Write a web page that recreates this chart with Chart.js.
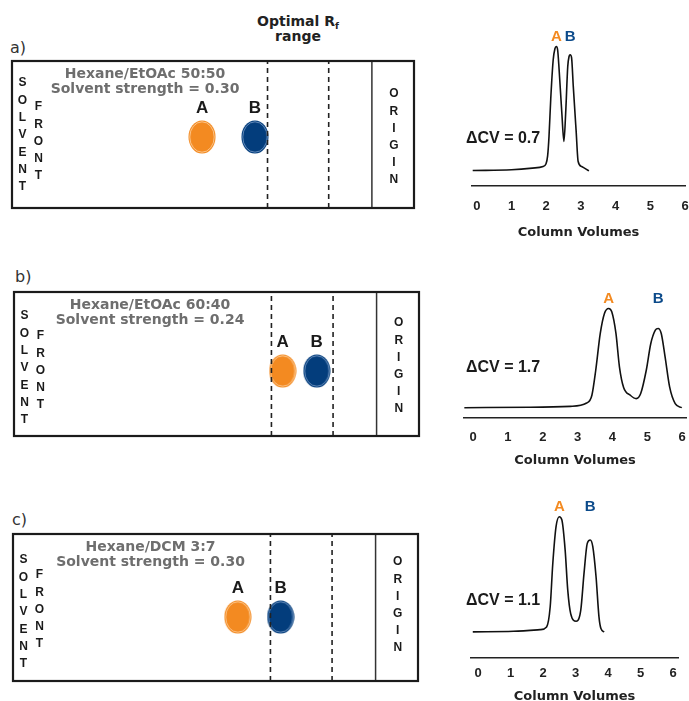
<!DOCTYPE html>
<html>
<head>
<meta charset="utf-8">
<script src="https://cdn.jsdelivr.net/npm/chart.js@4.4.1/dist/chart.umd.min.js"></script>
<style>
html,body{margin:0;padding:0;background:#fff;width:689px;height:701px;overflow:hidden;}
canvas{position:absolute;}
.t{position:absolute;white-space:nowrap;}
.row{font-family:"DejaVu Sans";font-size:16px;line-height:16px;color:#333;}
.opt{font-family:"DejaVu Sans";font-weight:bold;font-size:14px;line-height:15px;color:#222;text-align:center;width:160px;left:218px;top:14px;}
.opt span{font-size:9px;vertical-align:-3px;line-height:0;}
</style>
</head>
<body>
<div class="t row" style="left:10px;top:40px">a)</div>
<div class="t row" style="left:15px;top:269px">b)</div>
<div class="t row" style="left:12px;top:512px">c)</div>
<div class="t opt">Optimal R<span>f</span><br>range</div>
<script>
// ---------------- DATA ----------------
// TLC plates (x = Rf, measured from origin line toward solvent front)
const solventSystems   = ['Hexane/EtOAc 50:50', 'Hexane/EtOAc 60:40', 'Hexane/DCM 3:7'];
const solventStrengths = ['Solvent strength = 0.30', 'Solvent strength = 0.24', 'Solvent strength = 0.30'];
const spotNames   = ['A', 'B'];
const spotRfA     = [0.472, 0.259, 0.380];
const spotRfB     = [0.325, 0.165, 0.262];
const spotLane    = [0.483, 0.451, 0.435];
const optimalRfRange = [0.12, 0.29];
const originRf    = 0;
const frontWord1  = 'SOLVENT';
const frontWord2  = 'FRONT';
const originWord  = 'ORIGIN';

// Chromatograms (x = column volumes, y = relative detector signal)
const cvTicks = [0, 1, 2, 3, 4, 5, 6];
const deltaCVLabels = ['\u0394CV = 0.7', '\u0394CV = 1.7', '\u0394CV = 1.1'];
const axisTitle = 'Column Volumes';

const cv_a  = [-0.12, 1.00, 1.60, 1.91, 1.99, 2.04, 2.08, 2.13, 2.20, 2.25, 2.29, 2.33, 2.37, 2.45, 2.51, 2.56, 2.62, 2.66, 2.69, 2.73, 2.78, 2.86, 2.92, 3.02, 3.23];
const sig_a = [0.102, 0.107, 0.118, 0.129, 0.145, 0.200, 0.330, 0.580, 0.840, 0.915, 0.930, 0.905, 0.780, 0.484, 0.296, 0.484, 0.796, 0.865, 0.875, 0.855, 0.662, 0.373, 0.162, 0.129, 0.100];

const cv_b  = [-0.25, 1.64, 2.79, 3.26, 3.41, 3.52, 3.65, 3.77, 3.89, 3.98, 4.10, 4.20, 4.32, 4.51, 4.68, 4.81, 4.97, 5.10, 5.23, 5.31, 5.40, 5.51, 5.64, 5.80, 5.99];
const sig_b = [0.064, 0.067, 0.073, 0.095, 0.147, 0.313, 0.558, 0.691, 0.724, 0.702, 0.558, 0.336, 0.198, 0.147, 0.124, 0.158, 0.313, 0.491, 0.580, 0.591, 0.558, 0.402, 0.202, 0.091, 0.064];

const cv_c  = [-0.16, 1.09, 1.91, 2.11, 2.22, 2.30, 2.40, 2.50, 2.58, 2.68, 2.76, 2.85, 3.02, 3.16, 3.26, 3.36, 3.45, 3.53, 3.63, 3.72, 3.78, 3.88];
const sig_c = [0.169, 0.173, 0.184, 0.202, 0.336, 0.624, 0.869, 0.935, 0.913, 0.713, 0.447, 0.291, 0.240, 0.313, 0.558, 0.758, 0.780, 0.736, 0.536, 0.269, 0.191, 0.169];

const chromCV  = [cv_a, cv_b, cv_c];
const chromSig = [sig_a, sig_b, sig_c];

// ---------------- LAYOUT / STYLE ----------------
const ORANGE = '#F38A21', BLUE = '#033D7C';
const plateLayout = [
  {left: 12, top: 61,  width: 402, height: 147, textX: 133,   solventTop: 22, frontTop: 46, originTop: 33},
  {left: 14, top: 292, width: 405, height: 144, textX: 136,   solventTop: 24, frontTop: 44, originTop: 31},
  {left: 13, top: 534, width: 405, height: 147, textX: 137.5, solventTop: 26, frontTop: 41, originTop: 28}
];
const PAD = 6, RF_MIN = -0.117, RF_MAX = 1;

const chromLayout = [
  {bottom: 186, left: 472, right: 685, min: -0.14,  max: 6.0,  tickLen: 13, titlePad: 10,  deltaY: -47},
  {bottom: 417, left: 464, right: 686, min: -0.26,  max: 6.11, tickLen: 12, titlePad: 7.5, deltaY: -50},
  {bottom: 657, left: 471, right: 678, min: -0.215, max: 6.15, tickLen: 8,  titlePad: 7.5, deltaY: -57}
];
const CANVAS_L = 455, CANVAS_W = 234, TOP_PAD = 12, AREA_H = 150, FS = 13;

function spotImage(fill, ring) {
  const w = 28, h = 34;
  const c = document.createElement('canvas');
  c.width = w; c.height = h;
  const g = c.getContext('2d');
  g.beginPath(); g.ellipse(w / 2, h / 2, w / 2 - 0.5, h / 2 - 0.5, 0, 0, Math.PI * 2);
  g.fillStyle = fill; g.fill();
  g.beginPath(); g.ellipse(w / 2, h / 2, w / 2 - 1.8, h / 2 - 1.8, 0, 0, Math.PI * 2);
  g.strokeStyle = ring; g.lineWidth = 0.8; g.stroke();
  return c;
}
const orangeSpot = spotImage(ORANGE, 'rgba(255,220,180,0.9)');
const blueSpot = spotImage(BLUE, 'rgba(140,170,210,0.9)');

function makeCanvas(left, top, w, h) {
  const cv = document.createElement('canvas');
  cv.width = w; cv.height = h;
  cv.style.left = left + 'px'; cv.style.top = top + 'px';
  cv.style.width = w + 'px'; cv.style.height = h + 'px';
  document.body.appendChild(cv);
  return cv;
}

// ---------------- TLC PLATES ----------------
plateLayout.forEach((L, i) => {
  const cv = makeCanvas(L.left - PAD, L.top - PAD, L.width + 2 * PAD, L.height + 2 * PAD);
  const vline = x => [{x: x, y: 0}, {x: x, y: 1}];
  const platePlugin = {
    id: 'plate' + i,
    afterDatasetsDraw(chart) {
      const {ctx, chartArea: a, scales: {x}} = chart;
      ctx.save();
      ctx.strokeStyle = '#1b1b1b'; ctx.lineWidth = 2.2;
      ctx.strokeRect(a.left, a.top, a.right - a.left, a.bottom - a.top);
      ctx.textAlign = 'center'; ctx.textBaseline = 'middle';
      ctx.font = 'bold 17px "Liberation Sans", Arial, sans-serif';
      ctx.fillStyle = '#1a1a1a';
      [3, 4].forEach((di, k) => {
        const p = chart.getDatasetMeta(di).data[0];
        ctx.fillText(spotNames[k], p.x, p.y - 29);
      });
      ctx.font = 'bold 14px "DejaVu Sans", Verdana, sans-serif';
      ctx.fillStyle = '#6e6e6e';
      ctx.fillText(solventSystems[i], a.left + L.textX, a.top + 13);
      ctx.fillText(solventStrengths[i], a.left + L.textX, a.top + 28);
      ctx.font = 'bold 12px "Liberation Sans", Arial, sans-serif';
      ctx.fillStyle = '#1a1a1a';
      frontWord1.split('').forEach((ch, k) => ctx.fillText(ch, a.left + 10.5, a.top + L.solventTop + k * 17.3));
      frontWord2.split('').forEach((ch, k) => ctx.fillText(ch, a.left + 26.5, a.top + L.frontTop + k * 17.25));
      const ox = (x.getPixelForValue(originRf) + a.right) / 2 + 1;
      originWord.split('').forEach((ch, k) => ctx.fillText(ch, ox, a.top + L.originTop + k * 17.2));
      ctx.restore();
    }
  };
  new Chart(cv, {
    type: 'scatter',
    data: {
      datasets: [
        {type: 'line', data: vline(optimalRfRange[0]), borderColor: '#222', borderWidth: 1.6, borderDash: [5, 4], pointRadius: 0},
        {type: 'line', data: vline(optimalRfRange[1]), borderColor: '#222', borderWidth: 1.6, borderDash: [5, 4], pointRadius: 0},
        {type: 'line', data: vline(originRf), borderColor: '#333', borderWidth: 1.5, pointRadius: 0},
        {label: spotNames[0], data: [{x: spotRfA[i], y: spotLane[i]}], pointStyle: orangeSpot, pointRadius: 10},
        {label: spotNames[1], data: [{x: spotRfB[i], y: spotLane[i]}], pointStyle: blueSpot, pointRadius: 10}
      ]
    },
    options: {
      responsive: false, animation: false, events: [],
      layout: {padding: PAD, autoPadding: false},
      scales: {
        x: {type: 'linear', display: false, min: RF_MIN, max: RF_MAX, reverse: true},
        y: {type: 'linear', display: false, min: 0, max: 1}
      },
      plugins: {legend: {display: false}, tooltip: {enabled: false}}
    },
    plugins: [platePlugin]
  });
});

// ---------------- CHROMATOGRAMS ----------------
chromLayout.forEach((L, i) => {
  const lh = FS * 1.2;
  const axisH = L.tickLen + lh + L.titlePad + lh + 2;
  const h = Math.round(TOP_PAD + AREA_H + axisH);
  const cv = makeCanvas(CANVAS_L, L.bottom - AREA_H - TOP_PAD, CANVAS_W, h);
  const pts = chromCV[i].map((c, k) => ({x: c, y: chromSig[i][k]}));
  const chromPlugin = {
    id: 'chrom' + i,
    afterDatasetsDraw(chart) {
      const {ctx, chartArea: a, scales: {x, y}} = chart;
      ctx.save();
      ctx.font = 'bold 16px "Liberation Sans", Arial, sans-serif';
      ctx.fillStyle = '#1a1a1a'; ctx.textAlign = 'left'; ctx.textBaseline = 'middle';
      ctx.fillText(deltaCVLabels[i], 466 - CANVAS_L, a.bottom + L.deltaY);
      const d = chart.data.datasets[0].data;
      const peaks = d.filter((p, k) => k > 0 && k < d.length - 1 && p.y > d[k - 1].y && p.y >= d[k + 1].y);
      const topPix = Math.min(...peaks.map(p => y.getPixelForValue(p.y)));
      ctx.font = 'bold 15px "Liberation Sans", Arial, sans-serif';
      ctx.textAlign = 'center';
      peaks.forEach((p, k) => {
        ctx.fillStyle = k === 0 ? ORANGE : '#0B4A8A';
        ctx.fillText(spotNames[k], x.getPixelForValue(p.x), topPix - 10);
      });
      ctx.restore();
    }
  };
  new Chart(cv, {
    type: 'scatter',
    data: {
      datasets: [{
        data: pts, showLine: true, borderColor: '#111', borderWidth: 1.6,
        pointRadius: 0, cubicInterpolationMode: 'monotone', fill: false
      }]
    },
    options: {
      responsive: false, animation: false, events: [],
      layout: {padding: {left: L.left - CANVAS_L, right: CANVAS_L + CANVAS_W - L.right, top: TOP_PAD, bottom: 0}, autoPadding: false},
      scales: {
        x: {
          type: 'linear', min: L.min, max: L.max,
          afterBuildTicks: s => { s.ticks = cvTicks.map(v => ({value: v})); },
          grid: {display: false, drawTicks: true, tickLength: L.tickLen},
          border: {display: true, color: '#222', width: 1.6},
          ticks: {autoSkip: false, maxRotation: 0, padding: 0, color: '#222',
                  font: {family: '"Liberation Sans", Arial, sans-serif', size: FS, weight: 'bold'}},
          title: {display: true, text: axisTitle, color: '#222', padding: {top: L.titlePad, bottom: 2},
                  font: {family: '"DejaVu Sans", Verdana, sans-serif', size: 13, weight: 'bold'}}
        },
        y: {type: 'linear', display: false, min: 0, max: 1}
      },
      plugins: {legend: {display: false}, tooltip: {enabled: false}}
    },
    plugins: [chromPlugin]
  });
});
</script>
</body>
</html>
